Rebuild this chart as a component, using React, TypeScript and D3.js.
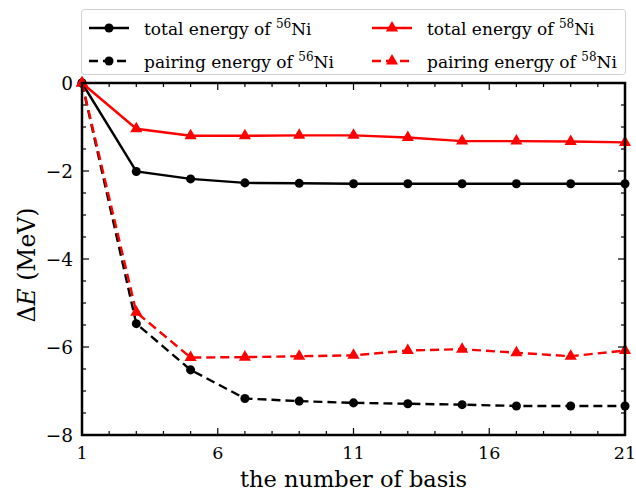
import React, { useEffect, useRef } from "react";
import * as d3 from "d3";

// number of basis states
const basis = [1, 3, 5, 7, 9, 11, 13, 15, 17, 19, 21];
// energies in MeV
const totalNi56 = [0, -2.01, -2.18, -2.27, -2.28, -2.29, -2.29, -2.29, -2.29, -2.29, -2.29];
const pairingNi56 = [0, -5.47, -6.52, -7.17, -7.23, -7.27, -7.29, -7.31, -7.34, -7.34, -7.34];
const totalNi58 = [0, -1.04, -1.2, -1.2, -1.19, -1.19, -1.24, -1.32, -1.32, -1.33, -1.35];
const pairingNi58 = [0, -5.21, -6.24, -6.23, -6.21, -6.19, -6.08, -6.05, -6.13, -6.21, -6.08];

const xTicks = [1, 6, 11, 16, 21];
const yTicks = [0, -2, -4, -6, -8];

const FONT = "DejaVu Serif, Liberation Serif, serif";

export default function App() {
  const svgRef = useRef<SVGSVGElement | null>(null);

  useEffect(() => {
    const svg = d3.select(svgRef.current);
    svg.selectAll("*").remove();

    const left = 82, right = 625, top = 83, bottom = 435;
    const x = d3.scaleLinear().domain([1, 21]).range([left, right]);
    const y = d3.scaleLinear().domain([-8, 0]).range([bottom, top]);

    const series = [
      { name: "total energy of ", iso: "56", vals: totalNi56, color: "#000", dash: null, marker: "circle" },
      { name: "pairing energy of ", iso: "56", vals: pairingNi56, color: "#000", dash: "9,5", marker: "circle" },
      { name: "total energy of ", iso: "58", vals: totalNi58, color: "#ff0000", dash: null, marker: "triangle" },
      { name: "pairing energy of ", iso: "58", vals: pairingNi58, color: "#ff0000", dash: "9,5", marker: "triangle" },
    ];

    const line = d3
      .line<number>()
      .x((_, i) => x(basis[i]))
      .y((d) => y(d));

    const tri = d3.symbol().type(d3.symbolTriangle).size(64);
    const circ = d3.symbol().type(d3.symbolCircle).size(64);

    const plot = svg.append("g");
    series.forEach((s) => {
      plot
        .append("path")
        .datum(s.vals)
        .attr("d", line)
        .attr("fill", "none")
        .attr("stroke", s.color)
        .attr("stroke-width", 2.4)
        .attr("stroke-dasharray", s.dash);
      plot
        .selectAll(null)
        .data(s.vals)
        .enter()
        .append("path")
        .attr("d", s.marker === "circle" ? circ() : tri())
        .attr("transform", (d, i) => `translate(${x(basis[i])},${y(d)})`)
        .attr("fill", s.color);
    });

    // ticks pointing inward on all four sides
    const ticks = svg.append("g").attr("stroke", "#000").attr("stroke-width", 1.2);
    d3.range(1, 22).forEach((v) => {
      const len = xTicks.includes(v) ? 7 : 4;
      ticks.append("line").attr("x1", x(v)).attr("x2", x(v)).attr("y1", bottom).attr("y2", bottom - len);
      ticks.append("line").attr("x1", x(v)).attr("x2", x(v)).attr("y1", top).attr("y2", top + len);
    });
    d3.range(-8, 0.01, 0.5).forEach((v) => {
      const len = Number.isInteger(v) && v % 2 === 0 ? 7 : 4;
      ticks.append("line").attr("y1", y(v)).attr("y2", y(v)).attr("x1", left).attr("x2", left + len);
      ticks.append("line").attr("y1", y(v)).attr("y2", y(v)).attr("x1", right).attr("x2", right - len);
    });

    svg
      .append("rect")
      .attr("x", left)
      .attr("y", top)
      .attr("width", right - left)
      .attr("height", bottom - top)
      .attr("fill", "none")
      .attr("stroke", "#000")
      .attr("stroke-width", 2.5);

    // tick labels
    svg
      .append("g")
      .selectAll("text")
      .data(xTicks)
      .enter()
      .append("text")
      .attr("x", (d) => x(d))
      .attr("y", bottom + 24)
      .attr("text-anchor", "middle")
      .attr("font-family", FONT)
      .attr("font-size", 17.5)
      .text((d) => String(d));
    svg
      .append("g")
      .selectAll("text")
      .data(yTicks)
      .enter()
      .append("text")
      .attr("x", left - 9)
      .attr("y", (d) => y(d) + 7)
      .attr("text-anchor", "end")
      .attr("font-family", FONT)
      .attr("font-size", 18.5)
      .text((d) => (d < 0 ? "\u2212" + Math.abs(d) : String(d)));

    // axis titles
    svg
      .append("text")
      .attr("x", (left + right) / 2)
      .attr("y", 487)
      .attr("text-anchor", "middle")
      .attr("font-family", FONT)
      .attr("font-size", 22.5)
      .text("the number of basis");
    const yl = svg
      .append("text")
      .attr("transform", `translate(35,265) rotate(-90)`)
      .attr("text-anchor", "middle")
      .attr("font-family", FONT)
      .attr("font-size", 23.5);
    yl.append("tspan").text("\u0394");
    yl.append("tspan").attr("font-style", "italic").text("E");
    yl.append("tspan").text(" (MeV)");

    // legend
    const lg = svg.append("g");
    lg.append("rect")
      .attr("x", 81.5)
      .attr("y", 9.5)
      .attr("width", 544)
      .attr("height", 65)
      .attr("rx", 3)
      .attr("fill", "#fff")
      .attr("stroke", "#d0d0d0")
      .attr("stroke-width", 1);
    const cols = [89, 372];
    const rows = [28, 61];
    series.forEach((s, i) => {
      const cx = cols[Math.floor(i / 2)];
      const cy = rows[i % 2];
      lg.append("line")
        .attr("x1", cx)
        .attr("x2", cx + 40)
        .attr("y1", cy)
        .attr("y2", cy)
        .attr("stroke", s.color)
        .attr("stroke-width", 2.4)
        .attr("stroke-dasharray", s.dash);
      lg.append("path")
        .attr("d", s.marker === "circle" ? circ() : tri())
        .attr("transform", `translate(${cx + 20},${cy})`)
        .attr("fill", s.color);
      const t = lg
        .append("text")
        .attr("x", cx + 55)
        .attr("y", cy + 7)
        .attr("font-family", FONT)
        .attr("font-size", 17);
      t.append("tspan").text(s.name);
      t.append("tspan").attr("dy", -7).attr("font-size", 12).text(s.iso);
      t.append("tspan").attr("dy", 7).text("Ni");
    });
  }, []);

  return (
    <div style={{ position: "absolute", left: 0, top: 0, width: 636, height: 493 }}>
      <svg ref={svgRef} width={636} height={493} style={{ display: "block" }} />
    </div>
  );
}
